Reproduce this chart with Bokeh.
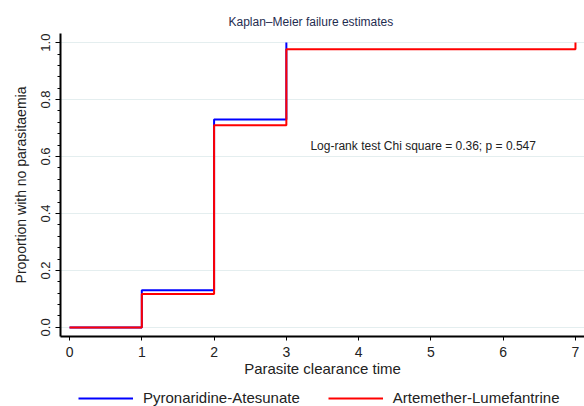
from bokeh.plotting import figure
from bokeh.layouts import column
from bokeh.models import Label, Legend, LegendItem, FixedTicker, Range1d
from bokeh.embed import file_html
from bokeh.resources import INLINE

# Data
pa_time = [0, 1, 2, 3]
pa_fail = [0.0, 0.13, 0.73, 1.0]
al_time = [0, 1, 2, 3, 7]
al_fail = [0.0, 0.117, 0.71, 0.977, 1.0]
series_names = ["Pyronaridine-Atesunate", "Artemether-Lumefantrine"]
series_colors = ["#0000ff", "#ff0000"]
x_ticks = [0, 1, 2, 3, 4, 5, 6, 7]
y_ticks = [0.0, 0.2, 0.4, 0.6, 0.8, 1.0]
y_tick_labels = ["0.0", "0.2", "0.4", "0.6", "0.8", "1.0"]
y_minor = [i * 0.04 for i in range(26)]

FONT = "Liberation Sans"

p = figure(width=584, height=380, output_backend="svg", toolbar_location=None,
           x_range=Range1d(-0.125, 7.125), y_range=Range1d(-0.032, 1.032),
           min_border_left=60, min_border_right=0, min_border_top=33, min_border_bottom=44)
p.outline_line_color = None
p.background_fill_color = "white"
p.border_fill_color = "white"

p.title.text = "Kaplan\u2013Meier failure estimates"
p.title.align = "left"
p.title.offset = 168
p.title.text_font = FONT
p.title.text_font_size = "12px"
p.title.text_font_style = "normal"
p.title.text_color = "#1f2d50"
p.title.standoff = 9

p.step(pa_time, pa_fail, mode="after", line_color=series_colors[0], line_width=2)
p.step(al_time, al_fail, mode="after", line_color=series_colors[1], line_width=2)

# axes
xa = p.xaxis[0]
xa.ticker = FixedTicker(ticks=x_ticks)
xa.axis_line_width = 2
xa.major_tick_out = 4
xa.major_tick_in = 0
xa.minor_tick_out = 0
xa.minor_tick_in = 0
xa.major_label_text_font = FONT
xa.major_label_text_font_size = "14px"
xa.major_label_text_color = "#222222"
xa.major_label_standoff = 6
xa.axis_label = "Parasite clearance time"
xa.axis_label_text_font = FONT
xa.axis_label_text_font_size = "15px"
xa.axis_label_text_font_style = "normal"
xa.axis_label_text_color = "#222222"
xa.axis_label_standoff = 0

ya = p.yaxis[0]
ya.ticker = FixedTicker(ticks=y_ticks, minor_ticks=y_minor)
ya.major_label_overrides = {t: s for t, s in zip(y_ticks, y_tick_labels)}
ya.axis_line_width = 2
ya.major_tick_out = 5
ya.major_tick_in = 0
ya.minor_tick_out = 3
ya.minor_tick_in = 0
ya.major_label_orientation = "vertical"
ya.major_label_text_font = FONT
ya.major_label_text_font_size = "13px"
ya.major_label_text_color = "#222222"
ya.major_label_standoff = 5
ya.axis_label = "Proportion with no parasitaemia"
ya.axis_label_text_font = FONT
ya.axis_label_text_font_size = "14px"
ya.axis_label_text_font_style = "normal"
ya.axis_label_text_color = "#222222"
ya.axis_label_standoff = 10

p.xgrid.grid_line_color = None
p.ygrid.ticker = FixedTicker(ticks=y_ticks)
p.ygrid.grid_line_color = "#e4eeef"
p.ygrid.grid_line_width = 1

p.add_layout(Label(x=3.333, y=0.6386, text="Log-rank test Chi square = 0.36; p = 0.547",
                   text_align="left", text_baseline="middle",
                   text_font=FONT, text_font_size="12px", text_color="#222222"))

# legend strip below the plot (its own lines sit outside its visible range)
lf = figure(width=584, height=26, output_backend="svg", toolbar_location=None,
            x_range=Range1d(100, 101), y_range=Range1d(100, 101),
            x_axis_type=None, y_axis_type=None,
            min_border_left=0, min_border_right=0, min_border_top=0, min_border_bottom=0)
lf.outline_line_color = None
lf.xgrid.visible = False
lf.ygrid.visible = False
l_pa = lf.step(pa_time, pa_fail, mode="after", line_color=series_colors[0], line_width=2)
l_al = lf.step(al_time, al_fail, mode="after", line_color=series_colors[1], line_width=2)
legend = Legend(items=[LegendItem(label=series_names[0], renderers=[l_pa]),
                       LegendItem(label=series_names[1], renderers=[l_al])],
                orientation="horizontal", location=(18, 0),
                glyph_width=55, glyph_height=14, label_height=14,
                label_standoff=10, spacing=28, padding=0, margin=0,
                border_line_color=None, background_fill_alpha=0, label_text_font=FONT,
                label_text_font_size="15px", label_text_color="#222222")
lf.add_layout(legend, "center")

layout = column(p, lf, spacing=0)
open("out.html", "w").write(file_html(layout, INLINE))
